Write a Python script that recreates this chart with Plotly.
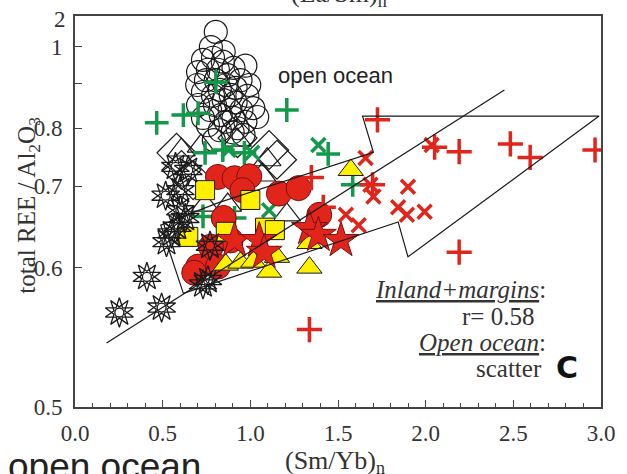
import numpy as np
import plotly.graph_objects as go

# (Sm/Yb)n vs total REE / Al2O3
# The vertical scale is logarithmic in (value - Y_OFFSET).
Y_OFFSET = 0.4

open_circle_x = [0.803, 0.775, 0.730, 0.787, 0.843, 0.904, 0.972, 0.702, 0.747, 0.803, 0.860, 0.916,
                 0.730, 0.787, 0.848, 0.916, 0.983, 1.017, 1.039, 0.972, 0.904, 0.831, 0.770, 0.702,
                 0.758, 0.826, 0.899, 0.961, 0.871, 0.944, 0.697, 0.815, 0.882, 0.792,
                 0.758, 0.826, 0.888, 0.949, 0.798, 0.860, 0.927, 0.730, 0.994, 0.848]
open_circle_y = [1.046, 0.999, 0.962, 0.968, 0.957, 0.940, 0.946, 0.929, 0.908, 0.908, 0.896, 0.889,
                 0.879, 0.870, 0.860, 0.855, 0.870, 0.842, 0.823, 0.813, 0.821, 0.827, 0.838, 0.849,
                 0.806, 0.796, 0.792, 0.787, 0.921, 0.908, 0.896, 0.935, 0.838, 0.777,
                 0.935, 0.884, 0.872, 0.838, 0.849, 0.813, 0.800, 0.821, 0.896, 0.985]

green_plus_x = [0.466, 0.618, 0.702, 0.803, 1.208, 0.742, 0.843, 0.966, 0.730, 0.910, 1.444, 1.584]
green_plus_y = [0.811, 0.827, 0.831, 0.903, 0.838, 0.754, 0.759, 0.754, 0.658, 0.656, 0.752, 0.702]

green_x_x = [0.876, 1.011, 1.388, 1.107]
green_x_y = [0.759, 0.754, 0.768, 0.666]

open_tri_x = [0.607, 0.719, 0.927, 1.096, 1.208, 0.871, 1.067, 0.742]
open_tri_y = [0.759, 0.766, 0.777, 0.742, 0.660, 0.673, 0.717, 0.673]

diamond_x = [0.579, 0.607, 1.107, 1.152, 0.927, 0.674]
diamond_y = [0.754, 0.725, 0.759, 0.742, 0.781, 0.709]

sun_x = [0.253, 0.494, 0.410, 0.517, 0.601, 0.573, 0.646, 0.601, 0.551, 0.584, 0.629, 0.522, 0.770, 0.758, 0.730]
sun_y = [0.560, 0.564, 0.591, 0.686, 0.694, 0.730, 0.725, 0.666, 0.637, 0.645, 0.656, 0.627, 0.623, 0.588, 0.584]

yellow_sq_x = [0.742, 1.000, 0.646, 0.860, 1.084, 1.140]
yellow_sq_y = [0.694, 0.680, 0.633, 0.639, 0.644, 0.641]

red_circle_x = [0.815, 0.910, 0.994, 0.848, 0.888, 0.775, 0.702, 0.680, 0.815, 1.163, 1.275, 1.393, 0.955]
red_circle_y = [0.714, 0.712, 0.715, 0.656, 0.629, 0.622, 0.601, 0.595, 0.601, 0.689, 0.697, 0.660, 0.694]

yellow_tri_x = [0.860, 0.944, 1.017, 1.107, 1.337, 1.573, 1.337, 1.152]
yellow_tri_y = [0.603, 0.605, 0.606, 0.596, 0.600, 0.725, 0.626, 0.611]

red_star_x = [0.910, 1.051, 1.079, 1.337, 1.388, 1.517]
red_star_y = [0.629, 0.629, 0.616, 0.643, 0.635, 0.629]

red_x_x = [1.657, 1.685, 1.702, 1.899, 1.545, 1.618, 1.843, 1.893, 1.994, 2.034]
red_x_y = [0.745, 0.702, 0.685, 0.699, 0.660, 0.647, 0.670, 0.660, 0.664, 0.768]

red_plus_x = [1.725, 1.348, 1.697, 1.416, 2.051, 2.191, 2.483, 2.596, 2.966, 2.191, 1.337]
red_plus_y = [0.817, 0.713, 0.702, 0.670, 0.764, 0.756, 0.770, 0.746, 0.759, 0.616, 0.547]

# outline fields and trend line
trend_x = [0.180, 2.449]
trend_y = [0.5375, 0.884]
field_right_x = [0.618, 1.843, 1.899, 2.989, 1.640, 1.702, 0.815]
field_right_y = [0.576, 0.651, 0.611, 0.825, 0.825, 0.755, 0.676]
field_left_x = [0.815, 0.489, 0.618]
field_left_y = [0.676, 0.647, 0.576]

y_tick_vals = [0.5, 0.6, 0.7, 0.8, 0.9, 1.0]
y_tick_text = ["0.5", "0.6", "0.7", "0.8", " ", "1"]

GREEN = "#12994a"
RED = "#e1251b"
YELLOW = "#fff000"
BLACK = "#1a1a1a"


def ty(vals):
    return np.array(vals) - Y_OFFSET


fig = go.Figure()


def add(xs, ys, symbol, size, color, line_color, line_width, angle=0):
    fig.add_trace(go.Scatter(
        x=xs, y=ty(ys), mode="markers", hoverinfo="skip",
        marker=dict(symbol=symbol, size=size, color=color, angle=angle,
                    line=dict(color=line_color, width=line_width)),
    ))


add(open_circle_x, open_circle_y, "circle-open", 23, BLACK, BLACK, 1.2)
add(diamond_x, diamond_y, "diamond-open", 30, BLACK, BLACK, 1.2)
add(open_tri_x, open_tri_y, "triangle-up-open", 24, BLACK, BLACK, 1.2)
add(green_plus_x, green_plus_y, "cross-thin-open", 17, GREEN, GREEN, 3.5)
add(green_x_x, green_x_y, "x-thin-open", 14, GREEN, GREEN, 3.5)
add(red_circle_x, red_circle_y, "circle", 25, RED, "#7a1010", 1)
add(yellow_sq_x, yellow_sq_y, "square", 19, YELLOW, BLACK, 1)
add(sun_x, sun_y, "star-open", 21, BLACK, BLACK, 1.3)
add(sun_x, sun_y, "star-open", 21, BLACK, BLACK, 1.3, angle=36)
add(sun_x, sun_y, "circle-open", 9, BLACK, BLACK, 1.3)
add(yellow_tri_x, yellow_tri_y, "triangle-up", 22, YELLOW, BLACK, 1)
add(red_star_x, red_star_y, "star", 27, RED, "#7a1010", 1)
add(red_x_x, red_x_y, "x-thin-open", 14, RED, RED, 3.5)
add(red_plus_x, red_plus_y, "cross-thin-open", 18, RED, RED, 3.5)

for lx, ly in [(trend_x, trend_y), (field_right_x, field_right_y), (field_left_x, field_left_y)]:
    fig.add_trace(go.Scatter(x=lx, y=ty(ly), mode="lines", hoverinfo="skip",
                             line=dict(color=BLACK, width=1.2)))

SERIF = "Liberation Serif"
SANS = "Liberation Sans"

fig.update_layout(
    width=627, height=474,
    margin=dict(l=75, r=19, t=16, b=67),
    paper_bgcolor="white", plot_bgcolor="white",
    showlegend=False,
    font=dict(family=SERIF, size=23, color="#333"),
    xaxis=dict(
        range=[0, 3], dtick=0.5, tick0=0, tickformat=".1f",
        ticks="inside", ticklen=7, tickwidth=1.2, tickcolor="#444",
        minor=dict(dtick=0.1, ticks="inside", ticklen=4, tickwidth=1.2, tickcolor="#444"),
        showline=True, linecolor="#444", linewidth=1.6, mirror=True,
        showgrid=False, zeroline=False, ticklabelstandoff=5,
        tickfont=dict(family=SERIF, size=23, color="#333"),
    ),
    yaxis=dict(
        type="log",
        range=[np.log10(0.5 - Y_OFFSET), np.log10(1.099 - Y_OFFSET)],
        tickvals=list(ty(y_tick_vals)), ticktext=y_tick_text,
        ticks="inside", ticklen=7, tickwidth=1.2, tickcolor="#444",
        showline=True, linecolor="#444", linewidth=1.6, mirror=True,
        showgrid=False, zeroline=False, ticklabelstandoff=6,
        tickfont=dict(family=SERIF, size=23, color="#333"),
    ),
)


def px_x(p):
    return (p - 75) / 533


def px_y(p):
    return (407 - p) / 391


ann = [
    dict(text="2", x=px_x(68), y=px_y(19), xanchor="right", yanchor="middle",
         font=dict(family=SERIF, size=23, color="#333")),
    dict(text="total REE / Al<sub>2</sub>O<sub>3</sub>", x=px_x(27), y=px_y(205), textangle=-90,
         xanchor="center", yanchor="middle", font=dict(family=SERIF, size=25, color="#333")),
    dict(text="(Sm/Yb)<sub>n</sub>", x=px_x(338), y=px_y(462), xanchor="center", yanchor="middle",
         font=dict(family=SERIF, size=26, color="#333")),
    dict(text="(La/Sm)<sub>n</sub>", x=px_x(343), y=px_y(-5), xanchor="center", yanchor="middle",
         font=dict(family=SERIF, size=26, color="#333")),
    dict(text="open ocean", x=px_x(5), y=px_y(466), xanchor="left", yanchor="middle",
         font=dict(family=SANS, size=37, color="#222")),
    dict(text="open ocean", x=px_x(339), y=px_y(75), xanchor="center", yanchor="middle",
         font=dict(family=SANS, size=22, color="#222")),
    dict(text="<i><u>Inland+margins</u></i>:", x=px_x(554), y=px_y(289), xanchor="right", yanchor="middle",
         font=dict(family=SERIF, size=25, color="#333")),
    dict(text="r= 0.58", x=px_x(542), y=px_y(316), xanchor="right", yanchor="middle",
         font=dict(family=SERIF, size=25, color="#333")),
    dict(text="<i><u>Open ocean</u></i>:", x=px_x(554), y=px_y(342), xanchor="right", yanchor="middle",
         font=dict(family=SERIF, size=25, color="#333")),
    dict(text="scatter", x=px_x(550), y=px_y(368), xanchor="right", yanchor="middle",
         font=dict(family=SERIF, size=25, color="#333")),
    dict(text="<b>C</b>", x=px_x(574), y=px_y(367), xanchor="center", yanchor="middle",
         font=dict(family="DejaVu Sans", size=30, color="#111")),
]
for a in ann:
    a.update(xref="paper", yref="paper", showarrow=False)
fig.update_layout(annotations=ann)

fig.write_html("out.html")
